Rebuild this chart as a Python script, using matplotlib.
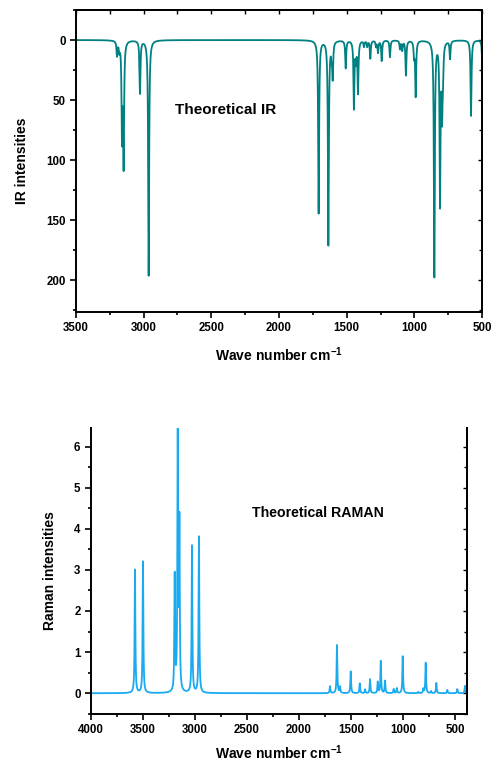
import numpy as np
import matplotlib
matplotlib.use('Agg')
import matplotlib.pyplot as plt
from matplotlib.ticker import MultipleLocator
from matplotlib.transforms import IdentityTransform

plt.rcParams['font.family'] = ['Liberation Sans', 'DejaVu Sans']
plt.rcParams['font.weight'] = 'bold'
plt.rcParams['mathtext.fontset'] = 'custom'
plt.rcParams['mathtext.rm'] = 'Liberation Sans:bold'
plt.rcParams['mathtext.bf'] = 'Liberation Sans:bold'

# 理论红外谱：峰位 (cm-1) 与强度
ir_pos = [3197, 3180, 3160, 3148, 3027, 2963, 1707, 1635, 1611, 1603, 1507,
          1446, 1431, 1416, 1372, 1348, 1325, 1283, 1268, 1241, 1180, 1106,
          1089, 1062, 1002, 990, 852, 810, 795, 788, 736, 581, 498]
ir_int = [12, 7, 78, 101, 44, 196, 144, 170, 10, 29, 23,
          56, 15, 43, 5, 5, 15, 5, 10, 17, 14, 7,
          8, 29, 12, 46, 196, 134, 56, 25, 15, 63, 18]

# 理论拉曼谱
ra_pos = [3577, 3500, 3195, 3166, 3150, 3029, 2962, 1702, 1635, 1606, 1503,
          1416, 1365, 1317, 1243, 1214, 1173, 1090, 1060, 1003, 853, 805,
          782, 731, 680, 574, 478, 404]
ra_int = [3.0, 3.2, 2.8, 6.5, 4.0, 3.58, 3.8, 0.17, 1.17, 0.15, 0.53,
          0.24, 0.09, 0.34, 0.27, 0.78, 0.3, 0.1, 0.12, 0.9, 0.03, 0.1,
          0.74, 0.05, 0.25, 0.08, 0.1, 0.18]


def spectrum(x, pos, inten, fwhm):
    g = fwhm / 2.0
    y = np.zeros_like(x)
    for p, a in zip(pos, inten):
        y += a * g ** 2 / ((x - p) ** 2 + g ** 2)
    return y


fig = plt.figure(figsize=(4.92, 7.63), dpi=100)
W, H = 492.0, 763.0

# ---- IR ----
ax1 = fig.add_axes([76 / W, 1 - 311.5 / H, (482 - 76) / W, (311.5 - 10) / H])
x1 = np.linspace(500, 3500, 12000)
ax1.plot(x1, spectrum(x1, ir_pos, ir_int, 8), color='#008080', lw=1.3)
ax1.set_xlim(3500, 500)
ax1.set_ylim(226, -25)
ax1.xaxis.set_major_locator(MultipleLocator(500))
ax1.xaxis.set_minor_locator(MultipleLocator(250))
ax1.yaxis.set_major_locator(MultipleLocator(50))
ax1.yaxis.set_minor_locator(MultipleLocator(25))
ax1.set_xlabel('Wave number cm$^{-1}$', fontsize=10, fontweight='bold', labelpad=8)
ax1.set_ylabel('IR intensities', fontsize=10, fontweight='bold', labelpad=12)

# ---- Raman ----
ax2 = fig.add_axes([91 / W, 1 - 713.8 / H, (466.5 - 91) / W, (713.8 - 428) / H])
x2 = np.linspace(390, 4000, 12000)
ax2.plot(x2, spectrum(x2, ra_pos, ra_int, 8), color='#19aaf0', lw=1.3)
ax2.set_xlim(4000, 390)
ax2.set_ylim(-0.5, 6.45)
ax2.spines['top'].set_visible(False)
ax2.xaxis.set_major_locator(MultipleLocator(500))
ax2.xaxis.set_minor_locator(MultipleLocator(250))
ax2.yaxis.set_major_locator(MultipleLocator(1))
ax2.yaxis.set_minor_locator(MultipleLocator(0.5))
ax2.set_xlabel('Wave number cm$^{-1}$', fontsize=10, fontweight='bold', labelpad=5)
ax2.set_ylabel('Raman intensities', fontsize=10, fontweight='bold', labelpad=12)

for ax in (ax1, ax2):
    for s in ax.spines.values():
        s.set_linewidth(1.4)
    ax.tick_params(which='both', direction='out', width=1.2, labelsize=8.3)
    ax.tick_params(which='major', length=4)
    ax.tick_params(which='minor', length=2.5)
    for lab in ax.get_xticklabels() + ax.get_yticklabels():
        lab.set_fontweight('bold')
    # 右侧刻度朝内
    sy = ax.secondary_yaxis('right')
    sy.yaxis.set_major_locator(ax.yaxis.get_major_locator())
    sy.yaxis.set_minor_locator(ax.yaxis.get_minor_locator())
    sy.tick_params(which='both', direction='in', labelright=False, width=1.0)
    sy.tick_params(which='major', length=3)
    sy.tick_params(which='minor', length=2)
    sy.spines['right'].set_linewidth(1.4)

sx = ax1.secondary_xaxis('top')
sx.xaxis.set_major_locator(MultipleLocator(250))
sx.tick_params(which='both', direction='in', labeltop=False, width=1.0, length=3)
sx.spines['top'].set_linewidth(1.4)

ax1.text(175, H - 110, 'Theoretical IR', fontsize=11, fontweight='bold',
         va='center', transform=IdentityTransform())
ax2.text(251.7, H - 512.7, 'Theoretical RAMAN', fontsize=10.2, fontweight='bold',
         va='center', transform=IdentityTransform())

fig.savefig('out.png', dpi=100)
